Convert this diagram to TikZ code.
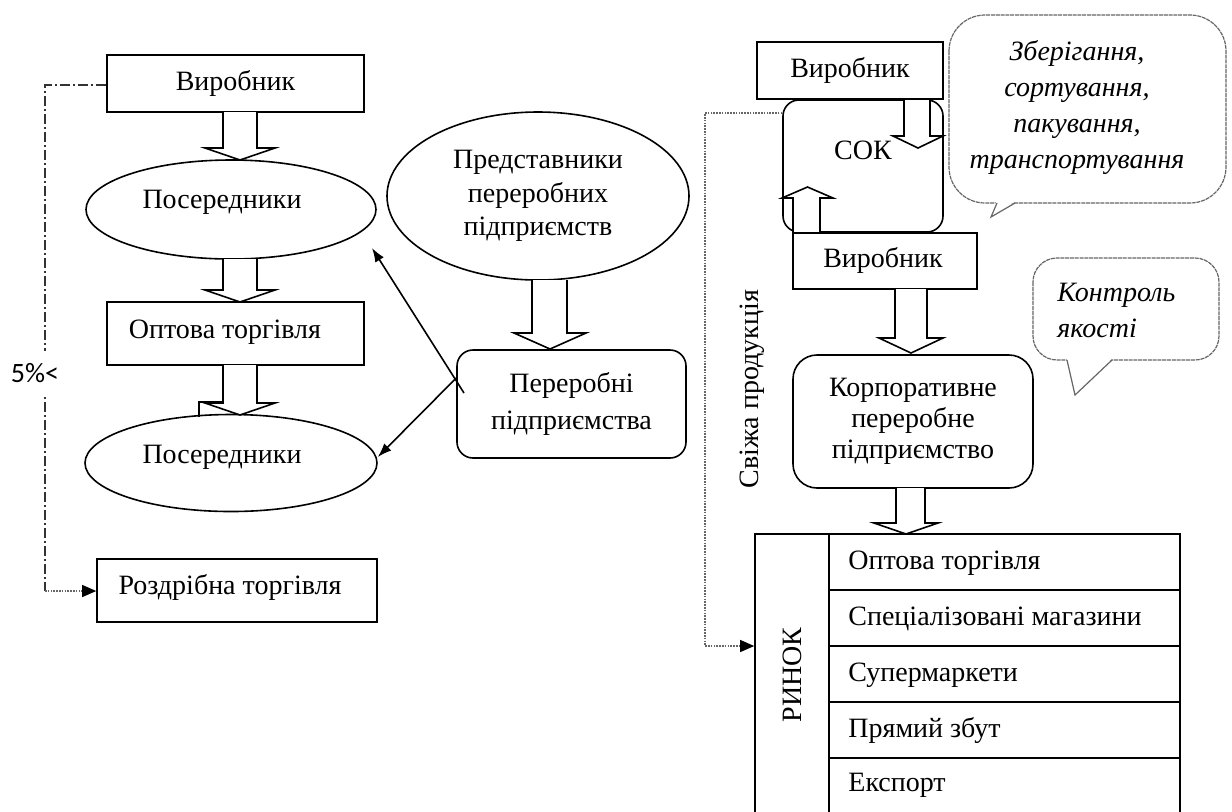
\documentclass[tikz,border=0pt]{standalone}
\usepackage{fontspec}
\setmainfont{Liberation Serif}
\newfontfamily\labelsans{Carlito}
\usetikzlibrary{arrows.meta,shapes.geometric}

% block arrow: shaft x-left, shaft x-right, base y, head-start y, head x-left, head x-right, tip y
\newcommand\bkarrow[7]{%
  \draw[blk] (#1,#3) -- (#1,#4) -- (#5,#4) -- ({(#5+#6)/2},#7) -- (#6,#4) -- (#2,#4) -- (#2,#3);}

\begin{document}
\begin{tikzpicture}[x=0.5pt,y=-0.5pt,
  every node/.style={font=\fontsize{14}{17}\selectfont, inner sep=0pt},
  box/.style={draw, line width=0.8pt, fill=white, rectangle},
  rbox/.style={box, rounded corners=8pt},
  oval/.style={draw, line width=0.8pt, ellipse, fill=white},
  blk/.style={draw, line width=0.8pt, fill=white, line join=miter},
  thinarrow/.style={line width=0.8pt, -{Latex[length=7pt,width=5pt]}},
  dashdotline/.style={line width=0.6pt, black!80, dash pattern=on 5pt off 1.5pt on 1pt off 1.5pt},
  fineline/.style={line width=0.6pt, black!60, dash pattern=on 0.8pt off 0.6pt},
  tiparrow/.style={-{Triangle[length=7pt,width=6pt,color=black]}},
  bubble/.style={draw=black!60, line width=0.6pt, fill=white, dash pattern=on 2pt off 0.4pt},
  note/.style={font=\fontsize{14}{18}\selectfont\itshape, align=center}
]
\useasboundingbox (0,0) rectangle (1232,811);
\fill[white] (0,0) rectangle (1232,811);

% ---------------- left chain ----------------
\node[box, minimum width=128.5pt, minimum height=28.5pt] (vL) at (235.5,83.5) {Виробник};
\node[oval, minimum width=145pt, minimum height=49.5pt] (pA) at (231,209.5) {};
\node (pAt) at (222,202) {Посередники};
\node[box, minimum width=128.5pt, minimum height=31.5pt] (opt) at (235.5,333.5) {};
\node (optt) at (225,332) {Оптова торгівля};
\node[oval, minimum width=146pt, minimum height=48.5pt] (pB) at (231,463) {};
\node (pBt) at (222,457) {Посередники};
\node[box, minimum width=140pt, minimum height=31.5pt] (rozd) at (237,590.5) {};
\node (rozdt) at (230,587) {Роздрібна торгівля};

\bkarrow{223}{257}{112}{148}{205}{275}{160}
\bkarrow{223}{257}{259}{290}{205}{275}{302}
\bkarrow{223}{257}{365}{403}{205}{275}{415}
\draw[line width=0.8pt] (223,402) -- (199,402) -- (199,417);

% processing enterprises
\node[oval, minimum width=151pt, minimum height=84pt, align=center,
      font=\fontsize{14}{16.75}\selectfont] (repr) at (538,196)
      {Представники\\переробних\\підприємств};
\node[rbox, minimum width=114.5pt, minimum height=54pt, align=center,
      font=\fontsize{14}{18.5}\selectfont] (pp) at (571.5,404)
      {Переробні\\підприємства};
\bkarrow{532}{567}{280}{333}{514}{586}{349}

\coordinate (sA) at (464,393);
\coordinate (tA) at (372,248);
\draw[thinarrow] (sA) -- (tA);
\draw[thinarrow] ([yshift=13pt]pp.west) -- ([yshift=3pt]pB.east);

% share of direct sales
\coordinate (cTop) at (45,85);
\coordinate (cBot) at (45,591);
\draw[dashdotline] ([yshift=-0.75pt]vL.west) -- (cTop) -- (cBot);
\draw[fineline, tiparrow] (cBot) -- (rozd.west |- cBot);
\node[fill=white, inner xsep=1pt, inner ysep=6pt, font=\labelsans\fontsize{14}{17}\selectfont] (pct) at (35,373) {5\%<};

% ---------------- right chain ----------------
\node[box, rounded corners=8pt, minimum width=80pt, minimum height=66pt] (sok) at (863,166) {};
\node (sokt) at (863,150) {СОК};
\bkarrow{904}{930}{99}{136}{893}{943}{148}
\bkarrow{793}{820}{232}{198}{782}{833}{187}
\node[box, minimum width=93pt, minimum height=28.5pt] (vR1) at (850,70.5) {Виробник};
\node[box, minimum width=92pt, minimum height=28pt] (vR2) at (885,261) {};
\node (vR2t) at (883,260) {Виробник};
\bkarrow{895}{927}{289}{338}{879}{943}{353}
\node[box, rounded corners=12pt, minimum width=120pt, minimum height=66.5pt, align=center,
      font=\fontsize{14}{15.5}\selectfont] (korp) at (913,421.5)
      {Корпоративне\\переробне\\підприємство};
\bkarrow{896}{925}{488}{523}{874}{938}{534}

% market table
\node[box, minimum width=37pt, minimum height=140pt] (rynok) at (792,674) {};
\node[rotate=90] (rynokt) at (792,675) {РИНОК};
\node[box, minimum width=175.5pt, minimum height=28pt] (m1) at (1004.5,562) {};
\node[box, minimum width=175.5pt, minimum height=28pt] (m2) at (1004.5,618) {};
\node[box, minimum width=175.5pt, minimum height=28pt] (m3) at (1004.5,674) {};
\node[box, minimum width=175.5pt, minimum height=28pt] (m4) at (1004.5,730) {};
\node[box, minimum width=175.5pt, minimum height=28pt] (m5) at (1004.5,786) {};
\node[anchor=west] (m1t) at (848,563) {Оптова торгівля};
\node[anchor=west] (m2t) at (848,619) {Спеціалізовані магазини};
\node[anchor=west] (m3t) at (848,675) {Супермаркети};
\node[anchor=west] (m4t) at (848,730) {Прямий збут};
\node[anchor=west] (m5t) at (848,785) {Експорт};

% fresh produce route
\coordinate (fTop) at (705,113);
\coordinate (fBot) at (705,646);
\draw[fineline, tiparrow] ([yshift=26.5pt]sok.west) -- (fTop) -- (fBot) -- (rynok.west |- fBot);
\node[rotate=90] (fresh) at (752,389) {Свіжа продукція};

% callouts
\draw[bubble, rounded corners=18pt] (949,15) rectangle (1226,203);
\fill[white] (996.5,201) -- (1015.5,201) -- (991,217) -- cycle;
\draw[draw=black!60, line width=0.6pt] (997,203) -- (991,217) -- (1015,203);
\node[note] (n1) at (1077,107.5) {Зберігання,\\сортування,\\пакування,\\транспортування};

\draw[bubble, rounded corners=12pt] (1033,258) rectangle (1219,360);
\fill[white] (1066.5,358) -- (1112.5,358) -- (1075,395) -- cycle;
\draw[draw=black!60, line width=0.6pt] (1067,360) -- (1075,395) -- (1112,360);
\node[note, align=left, anchor=west] (n2) at (1057,310) {Контроль\\якості};
\end{tikzpicture}
\end{document}
